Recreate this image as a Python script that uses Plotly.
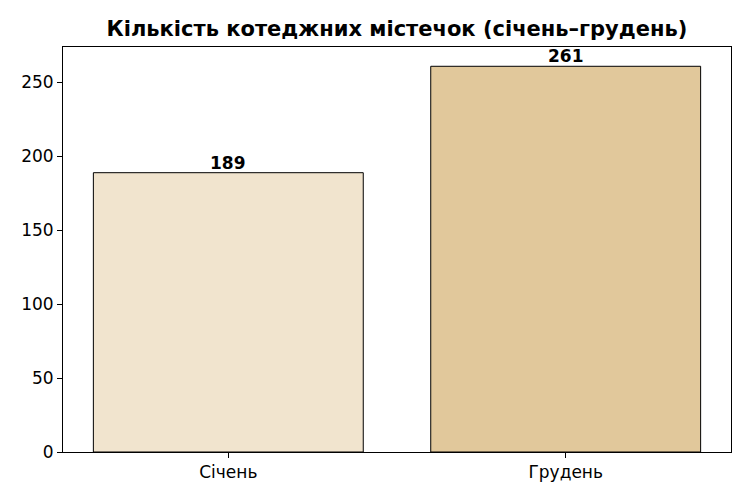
import plotly.graph_objects as go

# Data
months = ['Січень', 'Грудень']
counts = [189, 261]
bar_colors = ['#F1E4CE', '#E1C89B']
y_ticks = [0, 50, 100, 150, 200, 250]

fig = go.Figure()

fig.add_trace(go.Bar(
    x=months,
    y=counts,
    width=0.8,
    marker=dict(color=bar_colors, line=dict(color='black', width=1)),
    showlegend=False
))

# value labels above bars
for m, c in zip(months, counts):
    fig.add_annotation(
        x=m, y=c, text='<b>%d</b>' % c,
        showarrow=False, yanchor='bottom', yshift=-2,
        font=dict(family='DejaVu Sans', size=17, color='black')
    )

# page is drawn with an 8px body offset, margins compensate for it
fig.update_layout(
    title=dict(
        text='<b>Кількість котеджних містечок (січень–грудень)</b>',
        xref='paper', x=0.5, xanchor='center', y=0.958, yanchor='middle',
        font=dict(family='DejaVu Sans', size=21, color='black')
    ),
    width=750,
    height=500,
    margin=dict(l=55, r=27, t=39, b=56),
    plot_bgcolor='white',
    paper_bgcolor='white',
    font=dict(family='DejaVu Sans', size=17, color='black'),
    bargap=0.2,
)

fig.update_xaxes(
    range=[-0.49, 1.49],
    showline=True, mirror=True, linecolor='black', linewidth=1,
    ticks='outside', ticklen=5, tickcolor='black',
    showgrid=False
)
fig.update_yaxes(
    range=[0, 274.05],
    tickvals=y_ticks,
    showline=True, mirror=True, linecolor='black', linewidth=1,
    ticks='outside', ticklen=5, tickcolor='black',
    showgrid=False, zeroline=False
)

fig.write_html("out.html")
